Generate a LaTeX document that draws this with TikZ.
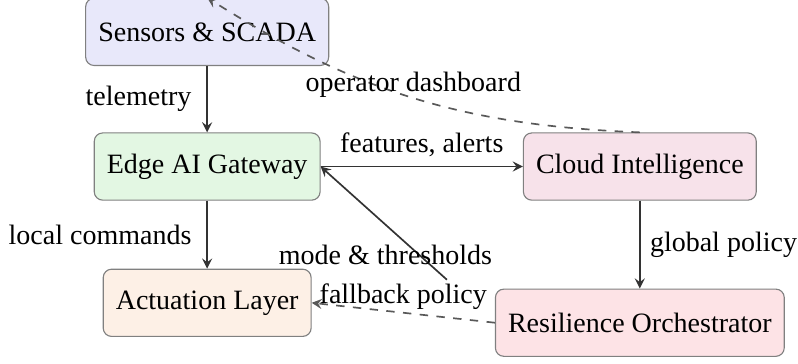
\documentclass[tikz,border=0pt]{standalone}
\usepackage{fontspec}
\setmainfont{Liberation Serif}
\usepackage{tikz}
\usetikzlibrary{positioning}
\definecolor{sensfill}{HTML}{E8E8FA}
\definecolor{edgefill}{HTML}{E3F7E3}
\definecolor{cloudfill}{HTML}{F7E2EA}
\definecolor{actfill}{HTML}{FDF0E6}
\definecolor{resfill}{HTML}{FDE3E6}

\begin{document}
\begin{tikzpicture}[block/.style={rectangle, rounded corners=3pt, draw=black!50, inner xsep=4.5pt, minimum height=24pt},
		sens/.style={block, fill=sensfill},
		gate/.style={block, fill=edgefill},
		cloud/.style={block, fill=cloudfill},
		act/.style={block, fill=actfill},
		res/.style={block, fill=resfill},
		flow/.style={->, draw=black!80, line width=0.6pt},
		aux/.style={->, draw=black!65, line width=0.6pt, dashed},
  >=stealth]
		\useasboundingbox (0,0) rectangle (10.015,-4.568);
		\node[sens] (1) at (2.60,-0.40) {Sensors \& SCADA};
		\node[gate] (2) at (2.60,-2.09) {Edge AI Gateway};
		\node[cloud] (3) at (8.03,-2.09) {Cloud Intelligence};
		\node[act] (4) at (2.60,-3.80) {Actuation Layer};
		\node[res] (5) at (8.03,-4.05) {Resilience Orchestrator};
		
		\path (1) edge[flow] node[left=2pt] {telemetry} (2);
		\path (2) edge[flow] node[above] {features, alerts} (3);
		\path (3) edge[flow] node[right=0pt] {global policy} (5);
		\path (2) edge[flow] node[left=2pt] {local commands} (4);
		\path (5.west) edge[flow, shorten <=23pt] node[midway, xshift=-0.28cm, yshift=-0.13cm] {mode \& thresholds} (2.east);
		\path (5.west) edge[aux] node[above=-2.5pt] {fallback policy} (4.east);
		\path (3.north) edge[aux, bend left=15] node[above=-3.5pt] {operator dashboard} (1.north);
		
	\end{tikzpicture}
\end{document}
